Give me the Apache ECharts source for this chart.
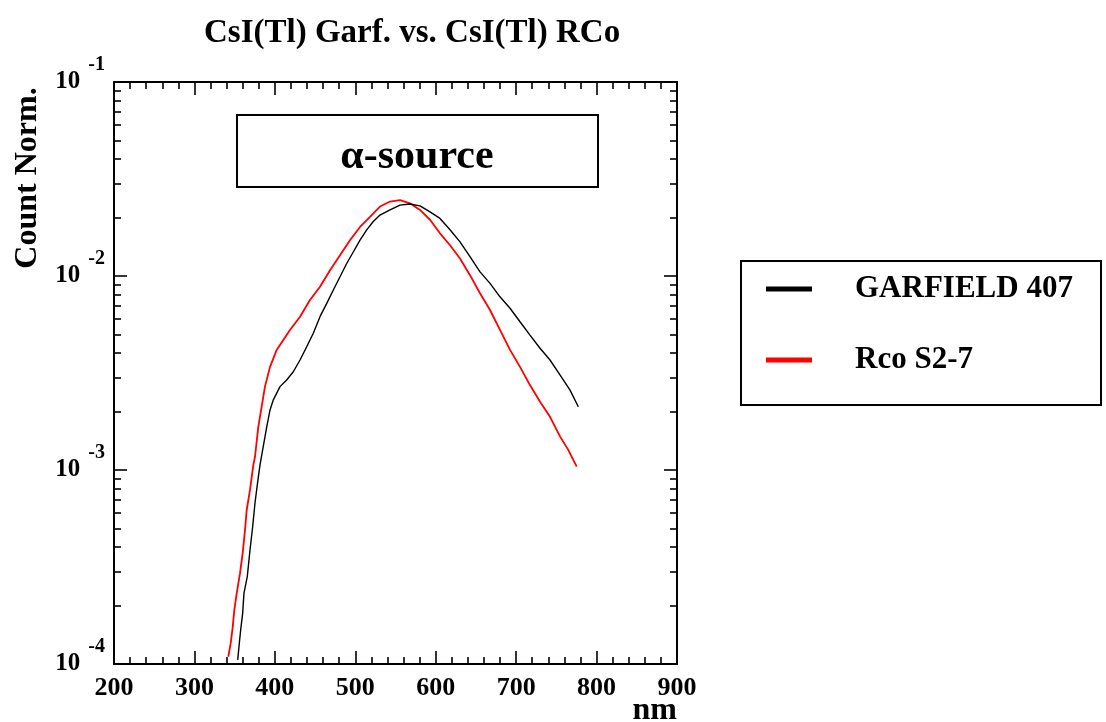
<!DOCTYPE html>
<html>
<head>
<meta charset="utf-8">
<script src="https://cdn.jsdelivr.net/npm/echarts@6.0.0/dist/echarts.min.js"></script>
<style>
html,body{margin:0;padding:0;background:#fff;}
#chart{width:1106px;height:722px;}
</style>
</head>
<body>
<div id="chart"></div>
<script>
// ---- data ----
const chartTitle = 'CsI(Tl) Garf. vs. CsI(Tl) RCo';
const xName = 'nm';
const yName = 'Count Norm.';
const boxLabel = 'α-source';
const seriesNames = ['GARFIELD 407', 'Rco S2-7'];
const xTickValues = [200, 300, 400, 500, 600, 700, 800, 900];
const yDecades = [1e-4, 1e-3, 1e-2, 1e-1];

const garfieldNm = [353.8,355.8,357.5,360.0,361.6,365.7,369.1,372.4,375.3,378.2,381.5,384.4,389.9,394.0,398.1,406.4,414.7,422.9,431.3,439.6,447.8,456.1,464.5,472.7,481.0,489.3,497.5,505.9,514.2,522.4,530.7,543.2,555.6,568.0,580.5,592.9,605.3,617.8,630.2,642.6,655.1,667.5,679.9,692.4,704.8,717.2,729.7,742.1,754.5,767.0,777.3];
const garfieldVal = [1.05e-4,1.28e-4,1.50e-4,1.83e-4,2.32e-4,2.82e-4,3.87e-4,5.1e-4,6.76e-4,8.4e-4,1.06e-3,1.24e-3,1.67e-3,2.04e-3,2.30e-3,2.69e-3,2.91e-3,3.21e-3,3.69e-3,4.32e-3,5.07e-3,6.17e-3,7.23e-3,8.47e-3,9.91e-3,1.16e-2,1.33e-2,1.53e-2,1.73e-2,1.91e-2,2.06e-2,2.19e-2,2.32e-2,2.35e-2,2.30e-2,2.14e-2,1.98e-2,1.73e-2,1.50e-2,1.26e-2,1.05e-2,9.16e-3,7.81e-3,6.82e-3,5.81e-3,4.96e-3,4.24e-3,3.69e-3,3.09e-3,2.58e-3,2.12e-3];

const rcoNm = [342.1,345.1,347.6,349.6,352.6,356.7,360.0,362.9,365.0,369.1,373.2,375.3,379.4,383.6,387.7,394.0,402.3,410.5,418.8,431.3,443.7,456.1,468.6,481.0,493.4,505.9,518.3,530.7,543.2,555.6,568.0,580.5,592.9,605.3,617.8,630.2,642.6,655.1,667.5,679.9,692.4,704.8,717.2,729.7,742.1,754.5,764.8,775.3];
const rcoVal = [1.09e-4,1.28e-4,1.55e-4,1.90e-4,2.32e-4,2.94e-4,3.73e-4,4.91e-4,6.22e-4,7.89e-4,1.06e-3,1.17e-3,1.67e-3,2.12e-3,2.69e-3,3.40e-3,4.16e-3,4.68e-3,5.27e-3,6.17e-3,7.52e-3,8.81e-3,1.07e-2,1.28e-2,1.53e-2,1.79e-2,2.02e-2,2.28e-2,2.42e-2,2.46e-2,2.37e-2,2.19e-2,1.95e-2,1.66e-2,1.44e-2,1.23e-2,1.01e-2,8.15e-3,6.68e-3,5.27e-3,4.16e-3,3.40e-3,2.74e-3,2.25e-3,1.88e-3,1.49e-3,1.27e-3,1.04e-3];

// ---- chart ----
const FONT = '"Liberation Serif", "Times New Roman", serif';
const yMinor = [];
yDecades.slice(0, -1).forEach(d => { for (let k = 2; k <= 9; k++) yMinor.push(+(d * k).toPrecision(3)); });

const GRID = {left: 114, top: 82, width: 563, height: 582};

function xAxisCfg(pos, showLabel) {
  return {
    type: 'value', position: pos, min: 200, max: 900, interval: 100,
    axisLine: {show: true, onZero: false, lineStyle: {color: '#000', width: 2}},
    axisTick: {show: true, inside: true, length: 13, lineStyle: {color: '#000', width: 1.6}},
    minorTick: {show: true, splitNumber: 5, length: 7, lineStyle: {color: '#000', width: 1.6}},
    splitLine: {show: false}, minorSplitLine: {show: false},
    axisLabel: {show: showLabel, margin: 11, fontFamily: FONT, fontWeight: 'bold', fontSize: 26, color: '#000',
      customValues: xTickValues, formatter: v => String(v)}
  };
}
function yAxisCfg(pos, major, showLabel) {
  return {
    type: 'log', logBase: 10, position: pos, min: 1e-4, max: 1e-1,
    axisLine: {show: major, onZero: false, lineStyle: {color: '#000', width: 2}},
    axisTick: {show: true, inside: true, length: major ? 13 : 7, customValues: major ? yDecades : yMinor,
      lineStyle: {color: '#000', width: 1.6}},
    splitLine: {show: false},
    axisLabel: {show: showLabel, margin: 9, customValues: yDecades,
      formatter: v => '{b|10}{e|' + Math.round(Math.log10(v)) + '}',
      rich: {
        b: {fontFamily: FONT, fontWeight: 'bold', fontSize: 25, color: '#000'},
        e: {fontFamily: FONT, fontWeight: 'bold', fontSize: 20, color: '#000', padding: [0, 0, 34, 8]}
      }}
  };
}

const chart = echarts.init(document.getElementById('chart'), null, {renderer: 'canvas'});
chart.setOption({
  animation: false,
  backgroundColor: '#fff',
  title: {text: chartTitle, left: 199, top: 12,
    textStyle: {fontFamily: FONT, fontWeight: 'bold', fontSize: 33, color: '#000'}},
  grid: Object.assign({containLabel: false, outerBoundsMode: 'none'}, GRID),
  legend: {
    data: seriesNames, orient: 'vertical', left: 766, top: 271, padding: 0,
    icon: 'rect', itemWidth: 46, itemHeight: 5, itemGap: 35,
    textStyle: {fontFamily: FONT, fontWeight: 'bold', fontSize: 31, lineHeight: 36, color: '#000', padding: [0, 0, 0, 38]}
  },
  xAxis: [xAxisCfg('bottom', true), xAxisCfg('top', false)],
  yAxis: [yAxisCfg('left', true, true), yAxisCfg('left', false, false), yAxisCfg('right', true, false), yAxisCfg('right', false, false)],
  series: [
    {name: seriesNames[0], type: 'line', xAxisIndex: 0, yAxisIndex: 0, symbol: 'none', z: 3,
      lineStyle: {color: '#000', width: 1.4}, itemStyle: {color: '#000'},
      data: garfieldNm.map((x, i) => [x, garfieldVal[i]])},
    {name: seriesNames[1], type: 'line', xAxisIndex: 0, yAxisIndex: 0, symbol: 'none', z: 2,
      lineStyle: {color: '#ff0000', width: 1.8}, itemStyle: {color: '#ff0000'},
      data: rcoNm.map((x, i) => [x, rcoVal[i]])}
  ],
  graphic: [
    {type: 'text', x: 28, y: 178, rotation: Math.PI / 2,
      style: {text: yName, fontFamily: FONT, fontWeight: 'bold', fontSize: 32, fill: '#000', align: 'center', verticalAlign: 'middle'}},
    {type: 'text', x: 677, y: 711,
      style: {text: xName, fontFamily: FONT, fontWeight: 'bold', fontSize: 32, fill: '#000', align: 'right', verticalAlign: 'middle'}},
    {type: 'rect', shape: {x: 237, y: 115, width: 361, height: 72}, z: 10,
      style: {fill: '#fff', stroke: '#000', lineWidth: 2}},
    {type: 'text', x: 417, y: 157, z: 11,
      style: {text: boxLabel, fontFamily: FONT, fontWeight: 'bold', fontSize: 42, fill: '#000', align: 'center', verticalAlign: 'middle'}},
    {type: 'rect', shape: {x: 741, y: 261, width: 360, height: 144}, z: 10,
      style: {fill: 'none', stroke: '#000', lineWidth: 2}}
  ]
});
</script>
</body>
</html>
